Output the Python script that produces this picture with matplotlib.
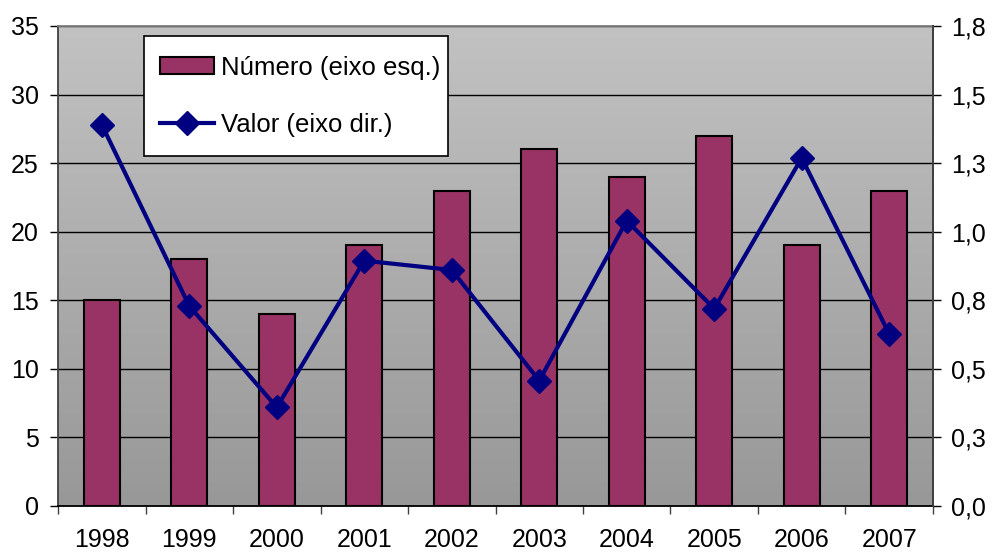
import numpy as np
import matplotlib
matplotlib.use('Agg')
from matplotlib import pyplot as plt
from matplotlib.ticker import FixedLocator, FuncFormatter
from matplotlib.lines import Line2D
from matplotlib.patches import Patch, Rectangle

plt.rcParams['font.family'] = ['Liberation Sans', 'DejaVu Sans']

anos = ['1998', '1999', '2000', '2001', '2002', '2003', '2004', '2005', '2006', '2007']
numero = [15, 18, 14, 19, 23, 26, 24, 27, 19, 23]
valor = [1.43, 0.75, 0.37, 0.92, 0.885, 0.47, 1.07, 0.74, 1.305, 0.645]

bar_cor = '#993366'
linha_cor = '#000080'
fs = 18

fig = plt.figure(figsize=(9.92, 5.53), dpi=100)
ax = fig.add_axes([0.0585, 0.085, 0.882, 0.868])
x = np.arange(len(anos))

# fundo em degrade
grad = np.linspace(0, 1, 256).reshape(-1, 1)
cmap = matplotlib.colors.LinearSegmentedColormap.from_list('g', ['#c2c2c2', '#989898'])
ax.imshow(grad, cmap=cmap, aspect='auto', extent=[0, 1, 0, 1],
          transform=ax.transAxes, zorder=0)

ax.bar(x, numero, width=0.41, color=bar_cor, edgecolor='black', linewidth=1.5, zorder=2)
ax.set_xlim(-0.5, len(anos) - 0.5)
ax.set_ylim(0, 35)
ax.set_yticks(range(0, 36, 5))
ax.yaxis.grid(True, color='black', linewidth=1)
ax.set_axisbelow(True)

ax.xaxis.set_major_locator(FixedLocator(np.arange(-0.5, len(anos), 1)))
ax.xaxis.set_major_formatter(FuncFormatter(lambda v, p: ''))
ax.set_xticks(x, minor=True)
ax.set_xticklabels(anos, minor=True)
ax.tick_params(axis='x', which='major', direction='out', length=6, width=1, color='#404040')
ax.tick_params(axis='x', which='minor', length=0, pad=15.5, labelsize=fs)
ax.tick_params(axis='y', direction='out', length=6, width=1, pad=8, labelsize=fs)

ax.spines['top'].set_color('#808080')
ax.spines['left'].set_color('#404040')
ax.spines['bottom'].set_color('black')
ax.spines['right'].set_color('#404040')
for s in ax.spines.values():
    s.set_linewidth(1.3)

ax2 = ax.twinx()
ax2.plot(x, valor, color=linha_cor, linewidth=3, marker='D', markersize=12.5,
         markerfacecolor=linha_cor, markeredgecolor=linha_cor, zorder=3)
ax2.set_ylim(0, 1.8)
ax2.yaxis.set_major_locator(FixedLocator(np.linspace(0, 1.8, 8)))
ax2.yaxis.set_major_formatter(FuncFormatter(lambda v, p: ('%.1f' % v).replace('.', ',')))
ax2.tick_params(axis='y', direction='out', length=6, width=1, pad=7, labelsize=fs)
ax2.spines['right'].set_color('#404040')
ax2.spines['right'].set_linewidth(1.3)
ax2.spines['top'].set_visible(False)
ax2.spines['left'].set_visible(False)
ax2.spines['bottom'].set_visible(False)

# caixa da legenda
ax2.add_patch(Rectangle((0.098, 0.729), 0.348, 0.25, transform=ax2.transAxes,
                        facecolor='white', edgecolor='black', linewidth=1.2, zorder=4))

handles = [Patch(facecolor=bar_cor, edgecolor='black', linewidth=1.5),
           Line2D([], [], color=linha_cor, linewidth=3, marker='D', markersize=12.5)]
leg = ax2.legend(handles, ['Número (eixo esq.)', 'Valor (eixo dir.)'],
                 loc='upper left', bbox_to_anchor=(0.098, 0.971), fontsize=18.5,
                 frameon=False, handlelength=2.1, handleheight=0.65, handletextpad=0.3,
                 labelspacing=1.3, borderpad=0.62, borderaxespad=0)
leg.set_zorder(5)

fig.savefig('out.png', dpi=100)
